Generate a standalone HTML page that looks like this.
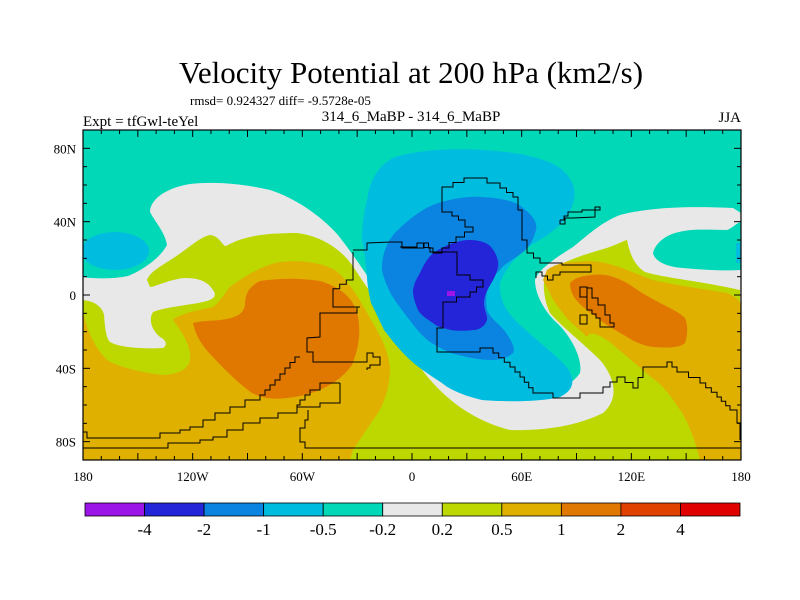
<!DOCTYPE html>
<html><head><meta charset="utf-8"><style>
body{margin:0;background:#fff;}
svg{display:block;font-family:"Liberation Serif",serif;}
</style></head><body>
<svg id="chart" width="800" height="600" viewBox="0 0 800 600" xmlns="http://www.w3.org/2000/svg">
<defs><clipPath id="pc"><rect x="83" y="130" width="658" height="330"/></clipPath></defs>
<text x="411" y="83" font-size="31" text-anchor="middle">Velocity Potential at 200 hPa (km2/s)</text>
<text x="190" y="105" font-size="13">rmsd= 0.924327 diff= -9.5728e-05</text>
<text x="83" y="126" font-size="15">Expt = tfGwl-teYel</text>
<text x="411" y="121" font-size="15" text-anchor="middle">314_6_MaBP - 314_6_MaBP</text>
<text x="741" y="122" font-size="15" text-anchor="end">JJA</text>
<g clip-path="url(#pc)">
<rect x="83" y="130" width="658" height="330" fill="#00d8b8"/>
<ellipse cx="115" cy="251" rx="34" ry="19" fill="#00bde0"/>
<path fill="#e8e8e8" d="M83,277 C95,279 113,279 128,276 C143,270 160,258 167,245 C165,232 155,222 150,212 C150,200 165,188 190,184 C215,181 245,184 270,190 C295,198 320,215 338,235 C352,253 365,272 378,292 C388,306 395,315 400,320 C408,333 425,362 443,373 C465,390 490,400 517,400 C545,399 572,386 580,373 C583,358 570,335 557,323 C545,312 535,295 535,280 C538,270 555,258 573,247 C588,235 600,223 620,215 C650,207 690,206 733,208 L741,213 L741,460 L83,460 Z"/>
<path fill="#00d8b8" d="M653,253 C655,245 662,238 672,234 C690,228 705,230 727,230 C733,228 736,223 741,222 L741,270 C725,271 705,270 683,268 C668,267 655,262 653,253 Z"/>
<rect x="736" y="243" width="6" height="20" fill="#00bde0"/>
<path fill="#bcd800" d="M147,280 C150,272 158,268 175,257 C190,247 200,237 210,235 C220,236 222,246 226,246 C240,238 258,233 297,233 C320,236 340,248 352,265 C362,280 375,300 387,313 C395,325 405,345 420,367 C440,395 470,420 510,430 C540,431 575,427 603,413 C618,400 617,380 600,360 C585,345 560,325 550,313 C543,298 542,280 547,272 C555,266 575,257 600,250 C615,246 625,240 627,240 C630,255 635,266 645,272 C665,278 700,281 740,290 L741,460 L83,460 L83,300 C92,301 102,305 104,315 C105,328 106,338 110,342 C120,348 145,349 163,348 C168,345 166,340 160,337 C152,330 148,320 153,312 C165,307 190,305 203,302 C212,300 218,297 213,290 C208,282 200,278 185,278 C170,279 155,287 150,287 Z"/>
<path fill="#e0b000" d="M83,313 C86,325 92,345 107,360 C120,368 145,373 163,375 C178,374 188,370 190,360 C192,345 180,330 173,320 C180,313 200,310 213,307 C222,300 225,292 230,287 C242,278 262,265 280,262 C300,260 320,262 335,270 C350,282 360,300 370,318 C380,335 388,350 390,367 C390,385 385,405 373,420 C365,432 358,442 353,450 L350,460 L83,460 Z"/>
<path fill="#e07800" d="M193,323 C205,320 215,321 220,320 C235,318 243,315 245,305 C245,295 248,287 260,281 C280,278 300,278 320,281 C340,287 352,297 357,312 C361,328 360,345 352,365 C340,382 320,392 300,396 C280,400 265,400 252,393 C238,383 225,370 213,357 C203,347 196,337 193,323 Z"/>
<path fill="#e0b000" d="M547,270 C555,264 565,262 573,262 C585,261 595,261 600,262 C610,264 620,267 627,270 C640,275 648,278 653,280 C670,284 690,287 727,293 C735,296 738,300 741,303 L741,460 L700,460 C695,440 688,420 678,407 C668,392 660,383 651,377 C638,366 625,355 611,343 C600,335 590,330 587,337 C575,325 565,318 563,313 C556,305 550,295 550,293 C546,285 543,280 543,280 Z"/>
<path fill="#e07800" d="M570,283 C574,279 578,277 585,276 C595,274 603,274 610,276 C620,279 628,283 633,287 C645,295 655,300 660,303 C672,309 680,313 685,318 C688,325 688,335 685,343 C680,348 668,348 653,347 C640,345 632,340 627,337 C615,330 605,324 600,320 C590,312 582,307 578,302 C573,297 570,290 570,283 Z"/>
<path fill="#00bde0" d="M367,200 C370,180 378,165 395,157 C420,150 450,148 482,150 C520,152 545,158 560,168 C575,180 580,195 567,217 C555,232 540,240 531,245 C518,255 505,268 500,283 C499,298 505,310 515,320 C530,335 550,350 565,365 C576,378 575,390 560,397 C540,402 505,402 482,400 C465,396 450,390 442,383 C425,372 415,365 407,357 C395,345 388,335 384,330 C377,315 372,305 371,303 C368,290 367,280 367,277 C365,260 364,245 362,240 C362,225 364,212 367,200 Z"/>
<path fill="#0a84e0" d="M384,253 C387,243 392,235 398,230 C410,218 425,207 438,203 C455,198 470,196 482,197 C500,198 515,201 522,207 C532,215 538,222 536,230 C533,240 530,247 522,253 C512,260 503,265 500,270 C492,278 488,284 487,290 C486,298 486,304 487,310 C490,318 500,325 504,330 C510,338 516,348 513,353 C505,360 495,360 491,360 C480,360 465,357 451,353 C440,348 430,343 424,337 C415,328 408,318 402,310 C396,302 391,295 389,290 C385,282 383,275 382,270 C382,262 383,257 384,253 Z"/>
<path fill="#2424d8" d="M420,273 C425,262 430,254 438,250 C448,244 460,240 469,240 C480,240 488,243 491,247 C497,254 499,262 498,267 C496,276 492,282 489,287 C486,293 484,298 484,303 C484,310 488,316 487,320 C485,326 480,330 473,330 C465,331 458,331 451,330 C442,328 436,326 433,323 C425,318 420,314 418,310 C415,303 413,297 413,290 C414,283 417,278 420,273 Z"/>
<rect x="447" y="291" width="8" height="5" fill="#9b14e8"/>
<g id="coast" fill="none" stroke="#000" stroke-width="1">
<polyline points="353,252 353,280 333,293 333,307 360,307 357,313 320,317 320,337 307,338 307,352 313,352 313,362 360,362 367,353 373,357 380,365 370,368 367,370"/>
<polyline points="300,357 290,368 280,380 270,390 260,400 245,407 230,413 215,420 203,427 190,430 180,433 160,438 87,438 87,432 83,432"/>
<polyline points="340,383 340,403 320,407 297,413 278,418 260,423 243,430 227,437 213,440 200,443 168,448 83,448"/>
<polyline points="340,383 330,383 320,390 310,395 300,405 297,413"/>
<polyline points="313,448 305,442 300,437 300,428 305,420 308,410"/>
<polyline points="313,448 741,448"/>
<polyline points="353,250 367,243 391,242 402,248 424,243 433,253 442,248 456,237 473,227 465,220 452,212 442,210 442,187 464,178 487,183 500,188 513,197 518,210 522,223 522,240 527,253 540,263 562,265 591,272 560,275 553,280 542,272 536,278"/>
<polyline points="400,247 417,243 430,252 457,255 457,275 470,280 483,287 470,297 443,307 443,328 437,328 437,352 463,352 480,348 493,353 510,367 520,377 533,393 553,398 580,393 603,387 617,377 633,388 643,367 667,362 677,372 700,383 717,397 730,410 737,423 740,440"/>
<polyline points="560,220 568,212 582,210 600,207 595,217 573,218 565,224 560,224 560,220"/>
<rect x="580" y="287" width="7" height="10"/>
<rect x="580" y="315" width="7" height="9"/>
<polyline points="587,288 592,298 598,305 605,315 610,323 614,327 607,327 600,318 592,310 587,302 587,288"/>
</g>
</g>
<rect x="83" y="130" width="658" height="330" fill="none" stroke="#000" stroke-width="1.2"/>
<g id="ticks" stroke="#000" stroke-width="1"></g>
<g id="xlabels" font-size="13" text-anchor="middle"></g>
<g id="ylabels" font-size="13" text-anchor="end"></g>
<g id="cbar"></g>
</svg>
<script>
const lonTicks=[-180,-120,-60,0,60,120,180];
const lonLabels=["180","120W","60W","0","60E","120E","180"];
const latTicks=[80,40,0,-40,-80];
const latLabels=["80N","40N","0","40S","80S"];
const cbColors=["#9b14e8","#2424d8","#0a84e0","#00bde0","#00d8b8","#e8e8e8","#bcd800","#e0b000","#e07800","#e04000","#e00000"];
const cbLevels=["-4","-2","-1","-0.5","-0.2","0.2","0.5","1","2","4"];
const NS="http://www.w3.org/2000/svg";
const X=lon=>83+(lon+180)/360*658;
const Y=lat=>295-lat*1.8333;
function mk(t,a,p){const e=document.createElementNS(NS,t);for(const k in a)e.setAttribute(k,a[k]);p.appendChild(e);return e;}
// make coastlines stair-stepped like grid-cell outlines
document.querySelectorAll('#coast polyline').forEach(pl=>{
 const pts=pl.getAttribute('points').trim().split(/\s+/).map(s=>s.split(',').map(Number));
 const out=[pts[0]];
 for(let i=1;i<pts.length;i++){
  const [x0,y0]=out[out.length-1],[x1,y1]=pts[i];
  const dx=x1-x0,dy=y1-y0;
  if(Math.abs(dx)>1&&Math.abs(dy)>1){
   const n=Math.max(1,Math.round(Math.min(Math.abs(dx),Math.abs(dy))/5));
   for(let k=1;k<=n;k++){const xa=x0+dx*(k-1)/n,xb=x0+dx*k/n,yb=y0+dy*k/n;
    out.push([xb,y0+dy*(k-1)/n]);out.push([xb,yb]);}
  } else out.push([x1,y1]);
 }
 pl.setAttribute('points',out.map(p=>p[0].toFixed(1)+','+p[1].toFixed(1)).join(' '));
});
const tg=document.getElementById('ticks');
for(let lon=-180;lon<=180;lon+=10){const L=lon%30===0?7:4;
 let l=mk('line',{x1:X(lon),x2:X(lon),y1:460,y2:460-L},tg);
 
 
 l=mk('line',{x1:X(lon),x2:X(lon),y1:130,y2:130+L},tg);
 
 }
for(let lat=-90;lat<=90;lat+=10){const L=lat%40===0?7:4;
 let l=mk('line',{x1:83,x2:83+L,y1:Y(lat),y2:Y(lat)},tg);
 
 
 l=mk('line',{x1:741,x2:741-L,y1:Y(lat),y2:Y(lat)},tg);
 
 }
const xg=document.getElementById('xlabels');
lonTicks.forEach((v,i)=>{const t=mk('text',{x:X(v),y:481},xg);t.textContent=lonLabels[i];
 
 });
const yg=document.getElementById('ylabels');
latTicks.forEach((v,i)=>{const t=mk('text',{x:76,y:Y(v)+5},yg);t.textContent=latLabels[i];
 
 });
const cg=document.getElementById('cbar');
const cx0=85,cw=655/cbColors.length;
cbColors.forEach((c,i)=>{const r=mk('rect',{x:cx0+i*cw,y:503,width:cw,height:13,fill:c,stroke:'#000','stroke-width':0.8},cg);
 
 });
cbLevels.forEach((s,i)=>{const t=mk('text',{x:cx0+(i+1)*cw,y:535,'font-size':17,'text-anchor':'middle'},cg);t.textContent=s;
 
 });
</script>
</body></html>
